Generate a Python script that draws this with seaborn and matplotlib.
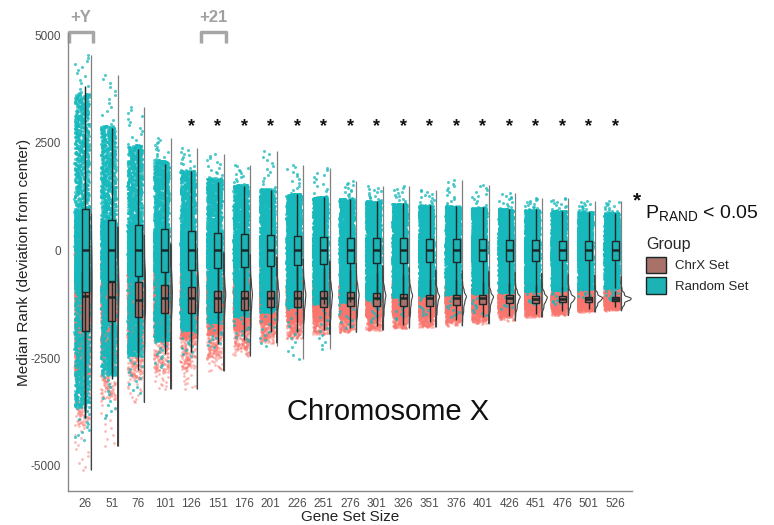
import numpy as np
import pandas as pd
import matplotlib
matplotlib.use("Agg")
import matplotlib.pyplot as plt
import matplotlib.transforms as mtransforms
from matplotlib.patches import Patch
import seaborn as sns

np.random.seed(3)

# gene set sizes on the x axis
sizes = [26, 51, 76, 101, 126, 151, 176, 201, 226, 251, 276,
         301, 326, 351, 376, 401, 426, 451, 476, 501, 526]

# random sets (median 0, roughly symmetric): box edge, dense edge, extremes
rand_q3 = [965, 710, 590, 500, 460, 400, 375, 350, 330, 310, 300,
           290, 280, 270, 260, 255, 245, 240, 230, 225, 215]
rand_dense = [3650, 2900, 2450, 2100, 1860, 1680, 1530, 1430, 1320, 1250, 1200,
              1150, 1090, 1050, 1030, 1000, 970, 945, 925, 900, 875]
rand_max = [4540, 4080, 3330, 2610, 2370, 2230, 1990, 2310, 1990, 1915, 1610,
            1490, 1490, 1410, 1640, 1530, 1330, 1215, 1215, 1140, 1140]
rand_min = [-4400, -3900, -3300, -2700, -2450, -2250, -2100, -2210, -2520, -2290, -1800,
            -1650, -1600, -1500, -1550, -1500, -1350, -1250, -1250, -1200, -1150]

# chrX sets (quantiles from low to high)
chrx_min = [-5100, -4550, -3530, -3220, -3220, -2800, -2450, -2150, -2050, -1950, -1900,
            -1850, -1800, -1780, -1745, -1700, -1630, -1550, -1510, -1430, -1395]
chrx_dense = [-4080, -3460, -2990, -2830, -2750, -2500, -2290, -2060, -1980, -1900, -1850,
              -1820, -1780, -1745, -1670, -1640, -1545, -1510, -1470, -1395, -1360]
chrx_p05 = [-2900, -2500, -2300, -2100, -2050, -1950, -1850, -1700, -1650, -1620, -1580,
            -1560, -1540, -1520, -1480, -1450, -1400, -1380, -1350, -1310, -1290]
chrx_q1 = [-1860, -1630, -1550, -1450, -1450, -1430, -1390, -1320, -1320, -1310, -1300,
           -1290, -1290, -1280, -1260, -1240, -1230, -1220, -1200, -1190, -1175]
chrx_med = [-1060, -1080, -1140, -1100, -1100, -1100, -1100, -1100, -1100, -1100, -1100,
            -1100, -1100, -1110, -1110, -1110, -1110, -1120, -1120, -1120, -1125]
chrx_q3 = [-500, -730, -730, -810, -850, -930, -930, -930, -940, -950, -960,
           -980, -1000, -1030, -1030, -1040, -1040, -1050, -1060, -1070, -1080]
chrx_p95 = [100, -250, -350, -450, -520, -610, -640, -660, -690, -720, -750,
            -790, -820, -860, -870, -890, -900, -920, -930, -950, -960]
chrx_hi = [600, 300, 100, -100, -200, -300, -350, -400, -450, -500, -550,
           -600, -650, -700, -720, -740, -760, -780, -800, -820, -850]

significant = [False, False, False, False, True, True, True, True, True, True, True,
               True, True, True, True, True, True, True, True, True, True]
annot_labels = ["+Y", "+21"]
annot_index = [0, 5]

chrx_probs = [0, 0.005, 0.05, 0.25, 0.5, 0.75, 0.95, 0.995, 1]
rand_probs = [0, 0.005, 0.25, 0.5, 0.75, 0.995, 1]
n_pts = 2500
grid = np.linspace(0, 1, n_pts)

rows = []
for group in ["ChrX Set", "Random Set"]:
    for i in range(len(sizes)):
        if group == "ChrX Set":
            knots = [chrx_min[i], chrx_dense[i], chrx_p05[i], chrx_q1[i], chrx_med[i],
                     chrx_q3[i], chrx_p95[i], chrx_hi[i], chrx_hi[i] + 250]
            vals = np.interp(grid, chrx_probs, knots)
        else:
            knots = [rand_min[i], -rand_dense[i], -rand_q3[i], 0,
                     rand_q3[i], rand_dense[i], rand_max[i]]
            vals = np.interp(grid, rand_probs, knots)
        rows.append(pd.DataFrame({"idx": i, "value": vals, "group": group}))
df = pd.concat(rows, ignore_index=True)
df["pt_pos"] = df["idx"] - 0.13

sns.set_style("white")
plt.rcParams["font.family"] = ["Liberation Sans", "DejaVu Sans"]
plt.rcParams["mathtext.default"] = "regular"

fig = plt.figure(figsize=(7.74, 5.25), dpi=100)
ax = fig.add_axes([0.088, 0.065, 0.729, 0.872])

pt_pal = {"ChrX Set": "#F8766D", "Random Set": "#17B9BC"}
box_pal = {"ChrX Set": "#A8716A", "Random Set": "#1DB3B5"}
order = ["ChrX Set", "Random Set"]

sns.stripplot(data=df[df["group"] == "ChrX Set"], x="pt_pos", y="value",
              color=pt_pal["ChrX Set"], native_scale=True, jitter=0.28,
              size=2.0, alpha=0.5, linewidth=0, ax=ax, zorder=1)
sns.stripplot(data=df[df["group"] == "Random Set"], x="pt_pos", y="value",
              color=pt_pal["Random Set"], native_scale=True, jitter=0.28,
              size=2.2, alpha=0.75, linewidth=0, ax=ax, zorder=1.1)

sns.boxplot(data=df, x="idx", y="value", hue="group", hue_order=order,
            palette=box_pal, native_scale=True, dodge=False, width=0.27,
            showfliers=False, showcaps=False, linecolor="#1c2727", linewidth=1.0,
            saturation=1, medianprops={"linewidth": 1.8}, legend=False, ax=ax)

# flat violin edge spanning all values of each size
xs = np.arange(len(sizes))
lo = np.minimum(chrx_min, rand_min)
hi = np.maximum(rand_max, np.array(chrx_hi) + 250)
ax.vlines(xs + 0.23, lo, hi, color="#808080", linewidth=0.9, zorder=3)

# half violins of the chrX sets, width by concentration
chrx_sets = [df[(df["group"] == "ChrX Set") & (df["idx"] == i)]["value"].values for i in xs]
iqr = np.array(chrx_q3) - np.array(chrx_q1)
widths = 0.75 * iqr.min() / iqr
vp = ax.violinplot(chrx_sets, positions=xs + 0.23, widths=widths, showextrema=False,
                   points=300, bw_method=0.2)
for body, p in zip(vp["bodies"], xs + 0.23):
    v = body.get_paths()[0].vertices
    v[:, 0] = np.maximum(v[:, 0], p)
    body.set_facecolor("none")
    body.set_edgecolor("#444444")
    body.set_linewidth(0.8)
    body.set_alpha(1)
    body.set_zorder(3)

# significance stars
trans = mtransforms.blended_transform_factory(ax.transData, ax.transAxes)
for i, s in enumerate(significant):
    if s:
        ax.text(i, 0.795, "*", transform=trans, ha="center", va="center",
                fontsize=13, fontweight="bold", color="#111111")

# brackets on top
for lab, i in zip(annot_labels, annot_index):
    ax.plot([i - 0.62, i - 0.62, i + 0.3, i + 0.3], [0.978, 1.002, 1.002, 0.978],
            transform=trans, clip_on=False, color="#a6a6a6", linewidth=2.5,
            solid_joinstyle="round", solid_capstyle="butt")
    ax.text(i - 0.16, 1.034, lab, transform=trans, ha="center", va="center",
            fontsize=12, fontweight="bold", color="#a0a0a0", clip_on=False)

ax.set_xlim(-0.65, len(sizes) - 0.35)
ax.set_ylim(-5584, 5050)
ax.set_xticks(xs)
ax.set_xticklabels([str(s) for s in sizes])
ax.set_yticks([-5000, -2500, 0, 2500, 5000])
ax.set_yticklabels(["-5000", "-2500", "0", "2500", "5000"])
ax.tick_params(axis="both", labelsize=8.5, colors="#4d4d4d", length=3, width=0.8, pad=2)
for sp in ["top", "right"]:
    ax.spines[sp].set_visible(False)
for sp in ["left", "bottom"]:
    ax.spines[sp].set_color("#8a8a8a")
    ax.spines[sp].set_linewidth(1.0)
ax.set_xlabel("Gene Set Size", fontsize=11, color="#222222", labelpad=0)
ax.set_ylabel("Median Rank (deviation from center)", fontsize=11, color="#222222", labelpad=0)

ax.text(0.567, 0.172, "Chromosome X", transform=ax.transAxes, ha="center", va="center",
        fontsize=21, color="#111111")

# p-value note and legend
fig.text(0.818, 0.618, "*", fontsize=15, fontweight="bold", ha="left", va="center", color="#111111")
fig.text(0.833, 0.594, "$P_{RAND}$ < 0.05", fontsize=14, ha="left", va="center", color="#111111")

handles = [Patch(facecolor=box_pal[g], edgecolor="#1c2727", linewidth=1.0) for g in order]
leg = fig.legend(handles, order, title="Group", loc="upper left",
                 bbox_to_anchor=(0.823, 0.566), frameon=False, fontsize=9.5,
                 title_fontsize=11.5, handlelength=1.5, handleheight=1.5,
                 handletextpad=0.7, labelspacing=0.35, borderpad=0.2)
leg._legend_box.align = "left"

fig.savefig("out.png", dpi=100)
